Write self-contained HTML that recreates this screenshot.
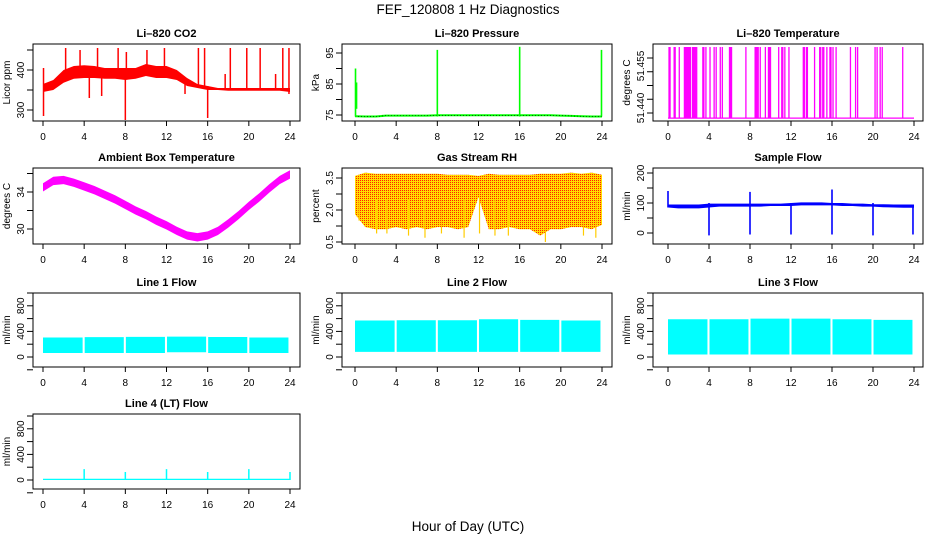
<!DOCTYPE html>
<html><head><meta charset="utf-8"><style>
body{margin:0;background:#fff}
svg{display:block;font-family:"Liberation Sans",Arial,sans-serif}
</style></head><body>
<svg id="c" width="936" height="540" viewBox="0 0 936 540" xmlns="http://www.w3.org/2000/svg">
<defs>
<pattern id="rhpat" width="2" height="2" patternUnits="userSpaceOnUse">
<rect width="2" height="2" fill="#ffdd00"/><rect width="1" height="1" fill="#ff2000"/>
</pattern>
</defs>
<text x="468" y="14" text-anchor="middle" font-size="13.5">FEF_120808  1 Hz Diagnostics</text>
<text x="468" y="531" text-anchor="middle" font-size="13.5">Hour of Day (UTC)</text>
</svg>
<script>
const hours=[0,1,2,3,4,5,6,7,8,9,10,11,12,13,14,15,16,17,18,19,20,21,22,23,24];
const xTicks=[0,4,8,12,16,20,24];
// CO2
const co2Low=[345,350,368,378,380,380,378,378,375,378,385,380,380,375,360,355,350,350,348,348,348,348,348,348,345];
const co2High=[365,375,400,410,412,410,405,405,405,405,415,410,410,400,380,365,360,355,355,355,355,355,355,355,355];
const co2Spikes=[[0.05,285,405],[2.2,380,455],[3.6,380,450],[5.3,380,455],[7.3,380,455],[8,275,380],[8.1,380,445],[10.1,385,450],[11.8,380,455],[15.1,355,455],[15.7,355,455],[16,280,360],[18.2,350,455],[19.8,350,455],[21.1,350,455],[23.3,350,455],[23.9,340,455],[17.7,350,390],[22.6,350,390],[4.5,330,400],[5.7,335,400],[13.8,340,380]];
// Pressure
const presBase=[74.6,74.5,74.5,74.8,74.8,74.8,74.8,74.8,74.9,74.9,74.9,74.9,74.9,74.9,74.9,74.9,74.9,74.9,74.9,74.9,74.8,74.7,74.6,74.5,74.5];
const presSpikes=[[0.05,74.5,90],[0.15,77,85.5],[8,74.5,96],[16,74.5,97],[23.95,74.5,96]];
// Li-820 temperature toggles
const tempBase=51.4386, tempTop=51.458;
const tempToggles=[0.1,0.2,0.6,0.7,1.1,1.6,1.7,1.8,1.9,2.0,2.1,2.2,2.4,2.5,2.6,2.7,2.8,3.4,3.5,3.7,4.1,4.5,4.7,5.1,5.3,6.0,6.1,6.2,7.6,8.5,8.6,8.7,8.8,9.0,9.5,9.8,9.9,10.0,10.8,11.1,11.2,11.4,11.8,13.2,13.3,13.5,13.6,14.3,14.8,14.9,15.1,15.2,15.5,15.8,15.9,16.1,16.4,17.8,18.3,18.5,20.2,20.4,20.7,20.9,22.9];
// Ambient box temperature
const ambMid=[34.5,35.2,35.3,35.0,34.6,34.2,33.7,33.2,32.6,32.0,31.5,30.9,30.4,29.8,29.3,29.1,29.3,29.8,30.6,31.5,32.5,33.4,34.4,35.3,35.9];
const ambHalf=0.45;
// Gas stream RH
const rhLow=[1.8,1.2,1.1,1.1,1.2,1.1,1.2,1.1,1.2,1.2,1.1,1.2,2.6,1.1,1.1,1.2,1.1,1.1,0.8,1.1,1.1,1.2,1.2,1.1,1.3];
const rhHigh=[3.6,3.75,3.7,3.7,3.7,3.7,3.7,3.7,3.7,3.65,3.65,3.65,3.6,3.7,3.65,3.65,3.65,3.65,3.7,3.7,3.7,3.75,3.7,3.75,3.65];
const rhDips=[[0.4,1.5],[2.1,0.9],[3.1,0.9],[5.2,0.8],[6.8,0.7],[8.4,0.9],[10.6,0.7],[12.1,0.9],[13.6,0.8],[14.9,0.8],[18.5,0.5],[22.2,0.8],[23.4,0.7]];
// Sample flow
const sfLow=[85,82,82,82,85,88,88,88,88,88,90,90,90,92,92,92,92,90,90,88,88,86,85,84,84];
const sfHigh=[95,95,95,95,98,98,98,98,98,98,98,98,100,102,102,102,100,100,98,98,96,96,95,95,95];
const sfSpikes=[[0,85,140],[4,-8,100],[8,-5,137],[12,-5,100],[16,-5,145],[20,-8,100],[23.9,-5,95]];
// Line flows
const flowSegStart=[0,4.05,8.05,12.05,16.05,20.05];
const flowSegEnd=[3.85,7.85,11.85,15.85,19.85,23.85];
const line1Low=[62,62,62,75,62,62];
const line1High=[305,310,315,318,312,305];
const line2Low=[80,80,80,80,80,80];
const line2High=[570,575,575,590,580,570];
const line3Low=[40,40,40,40,40,40];
const line3High=[590,590,600,600,590,580];
const line4Base=[0,20];
const line4Spikes=[[4,170],[8,125],[12,170],[16,125],[20,170],[24,125]];

const NS='http://www.w3.org/2000/svg';
const svg=document.getElementById('c');
function mk(tag,attrs,parent){const e=document.createElementNS(NS,tag);for(const k in attrs)e.setAttribute(k,attrs[k]);(parent||svg).appendChild(e);return e;}
const cols=[{l:33,r:300,x0:43,x24:290,yl:10,tl:24},{l:342,r:612,x0:355,x24:602,yl:319,tl:333},{l:653,r:923,x0:668,x24:914,yl:630,tl:644}];
const rows=[{t:44,b:121},{t:168,b:244},{t:293,b:367},{t:414,b:489}];
function panel(name,title,ci,ri,v0,p0,v1,p1,ticks,labels,unit){
  const c=cols[ci],r=rows[ri];
  const g=mk('g',{});
  
  
  const X=t=>c.x0+(t/24)*(c.x24-c.x0);
  const Y=v=>p0+(v-v0)*(p1-p0)/(v1-v0);
  const cp=mk('clipPath',{id:'cl'+name},g);mk('rect',{x:c.l,y:r.t,width:c.r-c.l,height:r.b-r.t},cp);
  const plot=mk('g',{'clip-path':'url(#cl'+name+')'},g);
  
  
  const bx=mk('rect',{x:c.l,y:r.t,width:c.r-c.l,height:r.b-r.t,fill:'none',stroke:'#000','stroke-width':1},g);
  
  
  const tt=mk('text',{x:(c.l+c.r)/2,y:r.t-7,'text-anchor':'middle','font-size':11,'font-weight':'bold'},g);tt.textContent=title;
  
  
  const xa=mk('g',{},g);
  
  
  xTicks.forEach(t=>{mk('line',{x1:X(t),x2:X(t),y1:r.b,y2:r.b+5,stroke:'#000'},xa);
    const tx=mk('text',{x:X(t),y:r.b+19,'text-anchor':'middle','font-size':10},xa);tx.textContent=t;});
  const ya=mk('g',{},g);
  
  
  ticks.forEach(v=>mk('line',{x1:c.l-6,x2:c.l,y1:Y(v),y2:Y(v),stroke:'#000'},ya));
  labels.forEach(([v,s,py])=>{const y=py!==undefined?py:Y(v);const tx=mk('text',{x:c.tl,y:y,'text-anchor':'middle','font-size':10,transform:`rotate(-90 ${c.tl} ${y})`},ya);tx.textContent=s;});
  const ut=mk('text',{x:c.yl,y:(r.t+r.b)/2,'text-anchor':'middle','font-size':10,transform:`rotate(-90 ${c.yl} ${(r.t+r.b)/2})`},ya);ut.textContent=unit;
  
  
  return {X,Y,plot};
}
function band(P,ts,lo,hi,fill,name){
  let d='M'+ts.map((t,i)=>P.X(t)+','+P.Y(hi[i])).join('L');
  d+='L'+ts.map((t,i)=>P.X(t)+','+P.Y(lo[i])).reverse().join('L')+'Z';
  const e=mk('path',{d:d,fill:fill},P.plot);
  
  
}
function vline(P,t,a,b,col,w,name){
  const e=mk('line',{x1:P.X(t),x2:P.X(t),y1:P.Y(a),y2:P.Y(b),stroke:col,'stroke-width':w||1.2},P.plot);
  
  
}
let P=panel('co2-panel','Li\u2013820 CO2',0,0,300,110,400,70,[300,350,400,450],[[300,'300'],[400,'400']],'Licor ppm');
band(P,hours,co2Low,co2High,'#ff0000','co2-series');
co2Spikes.forEach(s=>vline(P,s[0],s[1],s[2],'#ff0000',1.5,'co2-spike'));
P=panel('pressure-panel','Li\u2013820 Pressure',1,0,75,115,95,53,[75,80,85,90,95],[[75,'75'],[85,'85'],[95,'95']],'kPa');
(function(){const d='M'+hours.map((t,i)=>P.X(t)+','+P.Y(presBase[i])).join('L');
 const e=mk('path',{d:d,fill:'none',stroke:'#00ff00','stroke-width':2},P.plot);
 const e2=mk('path',{d:d,fill:'none',stroke:'#000','stroke-width':0.6,'stroke-dasharray':'1 2'},P.plot);})();
presSpikes.forEach(s=>{vline(P,s[0],s[1],s[2],'#00ff00',1.6,'pressure-spike');});
P=panel('li820-temperature-panel','Li\u2013820 Temperature',2,0,51.44,113,51.455,58,[51.44,51.44375,51.4475,51.45125,51.455],[[0,'51.440',108],[0,'51.455',66]],'degrees C');
(function(){const e=mk('line',{x1:P.X(0),x2:P.X(24),y1:P.Y(tempBase),y2:P.Y(tempBase),stroke:'#ff00ff','stroke-width':1.3},P.plot);})();
tempToggles.forEach(t=>vline(P,t,tempBase,tempTop,'#ff00ff',1.3,'temperature-toggle'));
P=panel('ambient-temperature-panel','Ambient Box Temperature',0,1,30,229,34,192,[30,32,34,36],[[30,'30'],[34,'34']],'degrees C');
band(P,hours,ambMid.map(v=>v-ambHalf),ambMid.map(v=>v+ambHalf),'#ff00ff','ambient-series');
P=panel('rh-panel','Gas Stream RH',1,1,0.5,242,3.5,178,[0.5,1.25,2,2.75,3.5],[[0.5,'0.5'],[2,'2.0'],[3.5,'3.5']],'percent');
band(P,hours,rhLow,rhHigh,'url(#rhpat)','rh-series');
rhDips.forEach(s=>vline(P,s[0],s[1],2.5,'#ffcc00',1.2,'rh-dip'));
P=panel('sample-flow-panel','Sample Flow',2,1,0,233,100,203,[0,50,100,150,200],[[0,'0'],[100,'100'],[200,'200']],'ml/min');
band(P,hours,sfLow,sfHigh,'#0000ff','sample-flow-series');
sfSpikes.forEach(s=>vline(P,s[0],s[1],s[2],'#0000ff',1.6,'sample-flow-spike'));
const flowTicks=[-200,0,200,400,600,800,1000];
const flowLabels=[[0,'0'],[400,'400'],[800,'800']];
function flowPanel(name,title,ci,ri,lo,hi){
  const p0=rows[ri].b-10;
  const Q=panel(name,title,ci,ri,0,p0,800,p0-51.2,flowTicks,flowLabels,'ml/min');
  flowSegStart.forEach((s,i)=>band(Q,[s,flowSegEnd[i]],[lo[i],lo[i]],[hi[i],hi[i]],'#00ffff',name+'-segment'));
  return Q;
}
flowPanel('line1-flow-panel','Line 1 Flow',0,2,line1Low,line1High);
flowPanel('line2-flow-panel','Line 2 Flow',1,2,line2Low,line2High);
flowPanel('line3-flow-panel','Line 3 Flow',2,2,line3Low,line3High);
P=panel('line4-flow-panel','Line 4 (LT) Flow',0,3,0,480,800,428.8,flowTicks,flowLabels,'ml/min');
band(P,[0,24],[line4Base[0],line4Base[0]],[line4Base[1],line4Base[1]],'#00ffff','line4-series');
line4Spikes.forEach(s=>vline(P,s[0],0,s[1],'#00ffff',1.5,'line4-spike'));
</script>
</body></html>
